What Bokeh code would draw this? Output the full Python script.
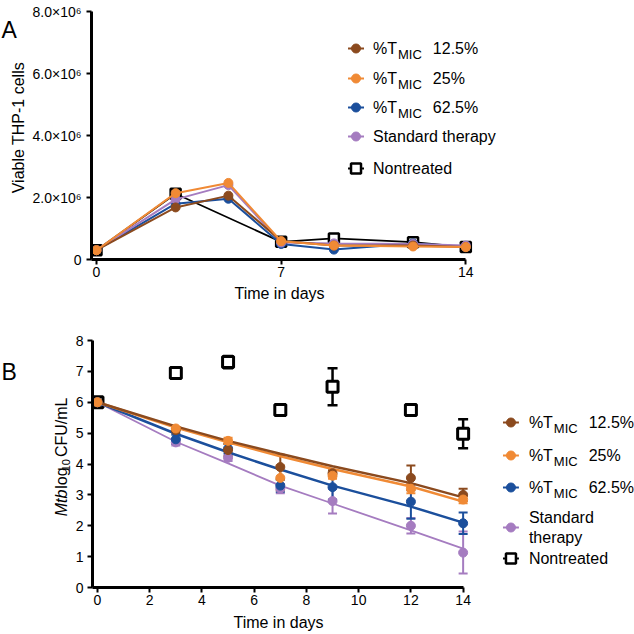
from math import pi
from bokeh.plotting import figure
from bokeh.models import Range1d, FixedTicker, Label, Whisker, TeeHead, ColumnDataSource
from bokeh.layouts import column, row
from bokeh.embed import file_html
from bokeh.resources import INLINE

FONT = "Liberation Sans"
BROWN, ORANGE, BLUE, PURPLE, BLACK = "#8B4A1E", "#F08A35", "#1B4F9C", "#A57CC0", "#000000"

# ---------------- Panel A data: viable THP-1 cells ----------------
days_a = [0, 3, 5, 7, 9, 12, 14]
days_a_nt = [0, 3, 7, 9, 12, 14]
a_brown = [0.30e6, 1.68e6, 2.06e6, 0.60e6, 0.45e6, 0.45e6, 0.40e6]
a_orange = [0.30e6, 2.14e6, 2.47e6, 0.59e6, 0.45e6, 0.42e6, 0.40e6]
a_blue = [0.30e6, 1.80e6, 1.96e6, 0.50e6, 0.32e6, 0.52e6, 0.40e6]
a_purple = [0.30e6, 1.94e6, 2.40e6, 0.55e6, 0.52e6, 0.50e6, 0.45e6]
a_nontreated = [0.30e6, 2.12e6, 0.57e6, 0.68e6, 0.56e6, 0.40e6]
a_yticks = [0, 2e6, 4e6, 6e6, 8e6]
a_ytick_labels = ["0", "2.0×10⁶", "4.0×10⁶", "6.0×10⁶", "8.0×10⁶"]
a_xticks = [0, 7, 14]

# ---------------- Panel B data: Mtb log10 CFU/mL ----------------
days_b = [0, 3, 5, 7, 9, 12, 14]
b_brown = [6.0, 5.10, 4.45, 3.90, 3.70, 3.55, 3.00]
b_brown_err = [0, 0.10, 0.20, 0.40, 0.10, 0.40, 0.20]
b_orange = [6.0, 5.15, 4.75, 3.55, 3.62, 3.20, 2.85]
b_orange_err = [0, 0.05, 0.10, 0.40, 0.10, 0.15, 0.12]
b_blue = [6.0, 4.80, 4.50, 3.30, 3.25, 2.78, 2.08]
b_blue_err = [0, 0.15, 0.15, 0.20, 0.40, 0.55, 0.35]
b_purple = [6.0, 4.70, 4.20, 3.20, 2.80, 2.00, 1.13]
b_purple_err = [0, 0.10, 0.10, 0.15, 0.40, 0.25, 0.68]
b_nontreated = [6.0, 6.95, 7.30, 5.75, 6.50, 5.75, 4.98]
b_nontreated_err = [0, 0.15, 0.20, 0.12, 0.60, 0.05, 0.47]
# fitted decay curves, read at each sampling day
b_brown_fit = [6.0, 5.22, 4.75, 4.33, 3.93, 3.38, 2.92]
b_orange_fit = [6.0, 5.18, 4.70, 4.25, 3.84, 3.27, 2.78]
b_blue_fit = [6.0, 4.98, 4.38, 3.82, 3.30, 2.62, 2.10]
b_purple_fit = [6.0, 4.72, 4.02, 3.30, 2.72, 1.85, 1.26]
b_yticks = [0, 1, 2, 3, 4, 5, 6, 7, 8]
b_xticks = [0, 2, 4, 6, 8, 10, 12, 14]

legend_pct = ["12.5%", "25%", "62.5%"]

# ---------------- layout (page pixels) ----------------
W = 634
FL = 90          # frame left (y-axis line)


def label(p, x, y, text, size=16, align="left", baseline="middle", angle=0, style="normal"):
    p.add_layout(Label(x=x, y=y, text=text, text_font=FONT, text_font_size=f"{size}px",
                       text_align=align, text_baseline=baseline, angle=angle,
                       text_font_style=style, text_color=BLACK))


class TextFig:
    """A bare figure whose frame is its whole canvas; positions given in page px."""
    def __init__(self, x0, x1, y0, y1):
        self.x0, self.y1 = x0, y1
        f = figure(width=x1 - x0, height=y1 - y0, output_backend="svg", toolbar_location=None,
                   x_range=Range1d(0, x1 - x0), y_range=Range1d(0, y1 - y0),
                   x_axis_type=None, y_axis_type=None, min_border=0)
        f.outline_line_color = None
        f.grid.visible = False
        self.fig = f

    def text(self, px, py, text, **kw):
        label(self.fig, px - self.x0, self.y1 - py, text, **kw)


def main_fig(cx0, cy0, cy1, ft, fb, x0_px, x14_px, ymax):
    ppd = (x14_px - x0_px) / 14.0
    xs = -(x0_px - FL) / ppd
    xe = xs + (W - FL) / ppd
    p = figure(width=W - cx0, height=cy1 - cy0, output_backend="svg", toolbar_location=None,
               x_range=Range1d(xs, xe), y_range=Range1d(0, ymax),
               min_border_left=FL - cx0, min_border_right=0,
               min_border_top=ft - cy0, min_border_bottom=cy1 - fb)
    p.outline_line_color = None
    p.xgrid.visible = False
    p.ygrid.visible = False

    def conv(px, py):
        return xs + (px - FL) / ppd, (fb - py) / (fb - ft) * ymax
    return p, conv, xs


def style_axes(p, xticks, yticks, xs):
    for ax in (p.xaxis[0], p.yaxis[0]):
        ax.axis_line_width = 3
        ax.axis_line_color = BLACK
        ax.major_tick_line_width = 2
        ax.major_tick_line_color = BLACK
        ax.major_tick_out = 5
        ax.major_tick_in = 0
        ax.minor_tick_line_color = None
        ax.major_label_text_font = FONT
        ax.major_label_text_font_size = "14px"
        ax.major_label_text_color = BLACK
    p.xaxis[0].ticker = FixedTicker(ticks=xticks)
    p.xaxis[0].bounds = (xs, 14)
    p.xaxis[0].major_label_standoff = 2
    p.yaxis[0].ticker = FixedTicker(ticks=yticks)
    p.yaxis[0].major_label_standoff = 5


def swatch(p, conv, cx, cy, color, kind, half=8):
    xa, ya = conv(cx - half, cy)
    xb, _ = conv(cx + half, cy)
    xc, _ = conv(cx, cy)
    if kind == "circle":
        p.line([xa, xb], [ya, ya], line_color=color, line_width=2)
        p.scatter([xc], [ya], marker="circle", size=9, fill_color=color, line_color=color)
    else:
        p.line([xa, xb], [ya, ya], line_color=BLACK, line_width=2)
        p.scatter([xc], [ya], marker="square", size=10, fill_color="white", line_color=BLACK, line_width=2.5)


def legend_block(p, conv, sw_x, tx, rows, two_line_std):
    def lab(px, py, text, size=16):
        x, y = conv(px, py)
        label(p, x, y, text, size=size)
    colors = [BROWN, ORANGE, BLUE]
    for i in range(3):
        ry = rows[i]
        swatch(p, conv, sw_x, ry, colors[i], "circle")
        lab(tx, ry, "%T")
        lab(tx + 25, ry + 6, "MIC", size=13)
        lab(tx + 60, ry, legend_pct[i])
    swatch(p, conv, sw_x, rows[3], PURPLE, "circle")
    if two_line_std:
        lab(tx, rows[3] - 10, "Standard")
        lab(tx, rows[3] + 10, "therapy")
    else:
        lab(tx, rows[3], "Standard therapy")
    swatch(p, conv, sw_x, rows[4], BLACK, "square")
    lab(tx, rows[4], "Nontreated")


def whiskers(p, ys, errs, color, width=2, head=9):
    xs = [d for d, e in zip(days_b, errs) if e > 0]
    up = [y + e for y, e in zip(ys, errs) if e > 0]
    lo = [y - e for y, e in zip(ys, errs) if e > 0]
    src = ColumnDataSource(dict(x=xs, upper=up, lower=lo))
    p.add_layout(Whisker(source=src, base="x", upper="upper", lower="lower", dimension="height",
                         line_color=color, line_width=width,
                         upper_head=TeeHead(size=head, line_color=color, line_width=width),
                         lower_head=TeeHead(size=head, line_color=color, line_width=width)))


# ================= Panel A =================
A_Y0, A_Y1 = 0, 284
LA = 29
leftA = TextFig(0, LA, A_Y0, A_Y1)
leftA.text(1, 21, "A", size=23, baseline="alphabetic")
leftA.text(18, 133, "Viable THP-1 cells", angle=pi / 2, align="center")

pa, ca, xsa = main_fig(LA, A_Y0, A_Y1, 11, 259, 95, 465, 8e6)
style_axes(pa, a_xticks, a_yticks, xsa)
pa.yaxis[0].major_label_overrides = {int(t): s for t, s in zip(a_yticks, a_ytick_labels)}

pa.line(days_a_nt, a_nontreated, line_color=BLACK, line_width=1.8)
pa.scatter(days_a_nt, a_nontreated, marker="square", size=10, fill_color="white",
           line_color=BLACK, line_width=2.5)
for ys, c in ((a_blue, BLUE), (a_purple, PURPLE), (a_brown, BROWN), (a_orange, ORANGE)):
    pa.line(days_a, ys, line_color=c, line_width=2)
    pa.scatter(days_a, ys, marker="circle", size=9, fill_color=c, line_color=c)
legend_block(pa, ca, 355, 372, [48, 78, 107, 136, 168], False)

titleA = TextFig(0, W, 284, 306)
titleA.text(279, 293, "Time in days", align="center")

# ================= Panel B =================
B_Y0, B_Y1 = 306, 611
LB = 72
leftB = TextFig(0, LB, B_Y0, B_Y1)
leftB.text(1, 345, "B", size=23, baseline="alphabetic")
# y title: "Mtb log10 CFU/mL" with italic Mtb and subscript 10 (rotated, reading upward)
leftB.text(60.5, 523, "Mtb", angle=pi / 2, style="italic")
leftB.text(60.5, 489, "log", angle=pi / 2)
leftB.text(65, 467.5, "10", size=11, angle=pi / 2)
leftB.text(60.5, 450.0, "CFU/mL", angle=pi / 2)

pb, cb, xsb = main_fig(LB, B_Y0, B_Y1, 340, 587, 95, 462, 8)
style_axes(pb, b_xticks, b_yticks, xsb)
pb.yaxis[0].major_label_standoff = 4

whiskers(pb, b_nontreated, b_nontreated_err, BLACK, width=2.5, head=10)
pb.scatter(days_b, b_nontreated, marker="square", size=11, fill_color="white",
           line_color=BLACK, line_width=3)
pb.line(days_b, b_purple_fit, line_color=PURPLE, line_width=1.8)
pb.line(days_b, b_blue_fit, line_color=BLUE, line_width=2.5)
pb.line(days_b, b_orange_fit, line_color=ORANGE, line_width=2.5)
pb.line(days_b, b_brown_fit, line_color=BROWN, line_width=2.5)
for ys, es, c in ((b_purple, b_purple_err, PURPLE), (b_blue, b_blue_err, BLUE),
                  (b_brown, b_brown_err, BROWN), (b_orange, b_orange_err, ORANGE)):
    whiskers(pb, ys, es, c)
    pb.scatter(days_b, ys, marker="circle", size=9, fill_color=c, line_color=c)
legend_block(pb, cb, 510, 528, [422, 455, 487, 527, 558], True)

titleB = TextFig(0, W, 611, 633)
titleB.text(278, 622, "Time in days", align="center")

layout = column(row(leftA.fig, pa, spacing=0), titleA.fig,
                row(leftB.fig, pb, spacing=0), titleB.fig, spacing=0)
open("out.html", "w").write(file_html(layout, INLINE))
